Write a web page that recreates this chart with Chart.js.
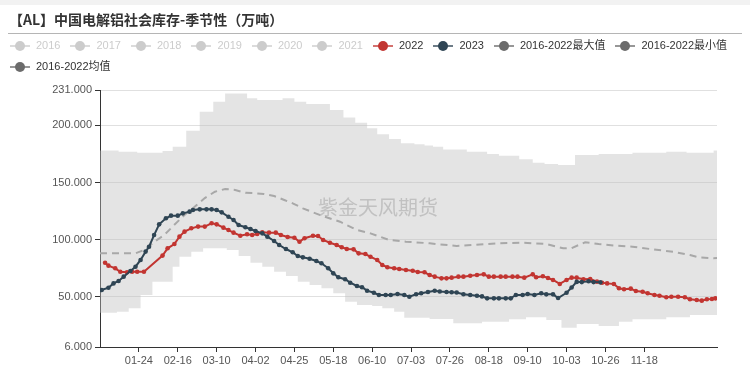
<!DOCTYPE html>
<html><head><meta charset="utf-8">
<script src="https://cdn.jsdelivr.net/npm/chart.js@4.4.0/dist/chart.umd.min.js"></script>
<style>
html,body{margin:0;padding:0;background:#fff;}
#wrap{position:relative;width:750px;height:383px;overflow:hidden;font-family:"Liberation Sans","Noto Sans CJK SC",sans-serif;}
#topbar{position:absolute;left:0;top:0;width:750px;height:5px;background:#f2f2f2;}
#title{position:absolute;left:9px;top:9px;font-size:14px;font-weight:bold;color:#333;line-height:20px;white-space:nowrap;font-family:"Noto Sans CJK SC",sans-serif;}
#sep{position:absolute;left:8px;top:33px;width:734px;height:1px;background:#b5b5b5;}
#legend{position:absolute;left:10px;top:35px;width:738px;display:flex;flex-wrap:wrap;font-size:11px;line-height:21px;}
.item{display:flex;align-items:center;margin-right:10px;height:21px;color:#333;white-space:nowrap;}
.icon{position:relative;width:20px;height:10px;margin-right:6px;}
.icon .ln{position:absolute;left:0;top:4px;width:20px;height:2px;opacity:0.7;}
.icon .dot{position:absolute;left:5px;top:0;width:10px;height:10px;border-radius:50%;}
canvas{position:absolute;left:0;top:0;}
</style></head>
<body>
<div id="wrap">
  <div id="topbar"></div>
  <canvas id="c" width="750" height="383"></canvas>
  <div id="title">【AL】中国电解铝社会库存-季节性（万吨）</div>
  <div id="sep"></div>
  <div id="legend"></div>
</div>
<script>
// ---- categories: MM-DD over a leap-year calendar ----
const monthDays = [31,29,31,30,31,30,31,31,30,31,30,31];
const categories = [];
monthDays.forEach((n, m) => { for (let d = 1; d <= n; d++) categories.push(String(m+1).padStart(2,'0') + '-' + String(d).padStart(2,'0')); });

const tickLabels = ['01-24','02-16','03-10','04-02','04-25','05-18','06-10','07-03','07-26','08-18','09-10','10-03','10-26','11-18'];
const yTicks = [6, 50, 100, 150, 200, 231];

const hiddenYears = ['2016','2017','2018','2019','2020','2021'];

const s2022 = [
 ['01-04',79.8],['01-06',77.2],['01-10',74.9],['01-13',71.9],['01-17',71.4],['01-20',71.9],['01-23',71.9],['01-27',71.9],
 ['02-07',86.0],['02-10',92.4],['02-14',96.2],['02-17',102.6],['02-20',107.0],['02-24',109.9],['02-28',111.4],
 ['03-03',111.4],['03-07',114.3],['03-10',113.4],['03-14',110.5],['03-17',108.4],['03-20',106.1],['03-24',103.4],['03-28',104.7],['03-31',104.1],
 ['04-03',105.0],['04-06',106.4],['04-10',106.1],['04-14',106.1],['04-17',104.1],['04-21',102.3],['04-25',101.7],['04-28',98.2],
 ['05-01',101.2],['05-06',103.4],['05-09',103.2],['05-12',99.7],['05-16',97.3],['05-20',95.3],['05-23',93.3],['05-26',91.8],['05-30',91.5],
 ['06-02',88.0],['06-06',87.4],['06-09',85.0],['06-13',82.2],['06-16',77.8],['06-19',75.8],['06-23',74.9],['06-26',74.3],['06-30',73.4],
 ['07-04',72.8],['07-07',71.7],['07-11',71.4],['07-14',69.0],['07-17',67.6],['07-21',66.1],['07-24',66.1],['07-27',66.7],['07-31',67.6],
 ['08-03',67.6],['08-07',68.4],['08-11',69.0],['08-15',69.6],['08-18',67.6],['08-21',67.6],['08-25',67.6],['08-28',67.6],
 ['09-01',67.6],['09-04',67.6],['09-08',66.7],['09-13',69.6],['09-15',67.0],['09-19',68.0],['09-22',66.4],['09-25',64.7],['09-29',61.2],
 ['10-03',64.7],['10-06',66.7],['10-09',66.7],['10-13',65.3],['10-17',65.5],['10-21',63.2],['10-24',62.3],['10-27',61.7],['10-31',61.2],
 ['11-03',57.4],['11-06',56.5],['11-10',57.1],['11-13',55.0],['11-17',54.4],['11-20',53.0],['11-24',51.5],['11-27',50.9],
 ['12-01',49.5],['12-04',50.0],['12-08',50.0],['12-12',49.5],['12-15',47.8],['12-19',47.1],['12-22',46.6],['12-25',47.8],['12-28',48.0],['12-30',48.6]
];

const s2023 = [
 ['01-02',55.9],['01-06',57.9],['01-09',61.7],['01-12',63.8],['01-15',67.6],['01-19',72.5],['01-22',76.3],['01-25',82.2],['01-28',89.5],['01-30',93.8],
 ['02-02',104.0],['02-05',113.4],['02-09',118.7],['02-12',121.0],['02-16',121.0],['02-19',123.0],['02-23',124.5],['02-25',126.0],['02-29',126.5],
 ['03-04',126.5],['03-07',126.5],['03-10',126.0],['03-13',123.9],['03-17',120.0],['03-20',117.2],['03-23',112.8],['03-27',110.8],['03-30',109.3],
 ['04-02',107.6],['04-06',105.5],['04-09',102.6],['04-13',98.8],['04-16',95.3],['04-20',91.8],['04-24',88.9],['04-27',85.7],['04-30',84.5],
 ['05-04',83.2],['05-08',81.3],['05-11',79.3],['05-15',74.9],['05-18',70.5],['05-21',67.0],['05-25',65.3],['05-28',62.3],
 ['06-01',59.4],['06-04',58.3],['06-07',55.3],['06-11',53.5],['06-14',51.5],['06-18',51.5],['06-21',51.5],['06-25',52.4],['06-29',51.5],
 ['07-02',50.0],['07-06',52.2],['07-09',53.0],['07-13',54.1],['07-17',55.3],['07-20',54.6],['07-24',54.1],['07-27',53.9],['07-30',53.7],
 ['08-03',52.2],['08-07',51.5],['08-11',50.9],['08-14',50.3],['08-17',48.6],['08-21',48.6],['08-24',48.6],['08-28',48.6],['08-31',48.6],
 ['09-03',51.5],['09-07',51.5],['09-10',52.4],['09-14',51.5],['09-18',53.0],['09-21',52.1],['09-25',52.1],['09-28',48.9],
 ['10-03',53.5],['10-06',58.1],['10-09',63.0],['10-12',62.8],['10-16',63.5],['10-19',62.8],['10-23',62.6]
];

// 2016-2022 max (stepped plateaus)
const sMax = [
 ['01-01',178.0],['01-12',177.0],['01-23',176.1],['02-07',177.6],['02-13',181.4],['02-21',195.4],['02-29',212.0],['03-08',220.8],['03-15',228.0],
 ['03-28',223.7],['04-03',222.2],['04-18',223.7],['04-25',220.8],['05-02',218.7],['05-16',213.5],['05-24',207.0],['05-31',202.4],['06-07',197.5],
 ['06-13',192.2],['06-20',188.0],['06-27',184.3],['07-05',183.5],['07-11',182.5],['07-16',181.4],['07-22',179.0],['08-05',177.0],['08-17',175.0],
 ['08-24',173.5],['09-05',170.3],['09-13',167.4],['09-20',166.2],['09-28',165.3],['10-08',174.0],['10-22',175.0],['11-11',176.0],['12-01',177.0],
 ['12-13',176.0],['12-29',178.0],['12-31',178.0]
];

// 2016-2022 min (stepped plateaus)
const sMin = [
 ['01-01',36.0],['01-11',36.9],['01-18',39.9],['01-25',51.5],['02-01',63.2],['02-13',76.3],['02-17',85.0],['02-24',89.4],['03-02',92.4],
 ['03-16',91.0],['03-23',85.7],['03-30',79.8],['04-06',76.3],['04-13',71.9],['04-20',68.2],['04-27',63.2],['05-04',60.3],['05-11',57.4],
 ['05-18',53.0],['05-25',45.7],['06-01',42.8],['06-10',41.9],['06-16',39.9],['06-23',36.9],['06-29',31.5],['07-14',30.5],['07-28',26.7],
 ['08-14',28.1],['08-30',30.2],['09-09',32.0],['09-21',29.6],['09-30',22.9],['10-09',26.1],['10-22',24.4],['11-03',28.1],['11-11',30.2],
 ['12-01',32.0],['12-15',34.0],['12-31',34.0]
];

// 2016-2022 mean
const sMean = [
 ['01-01',88.0],['01-22',88.0],['01-28',91.5],['02-02',98.0],['02-08',104.0],['02-14',113.0],['02-20',121.6],['02-26',128.8],
 ['03-03',136.4],['03-09',142.0],['03-15',144.3],['03-21',143.5],['03-27',141.0],['04-02',140.6],['04-07',140.0],['04-13',138.2],
 ['04-19',134.7],['04-24',131.8],['04-30',127.4],['05-11',121.0],['05-22',115.7],['06-01',108.4],['06-09',105.5],['06-20',99.7],
 ['06-30',98.2],['07-14',96.8],['07-30',94.4],['08-08',95.3],['08-23',96.8],['09-07',97.3],['09-21',96.2],['10-01',92.4],['10-06',92.6],
 ['10-14',97.7],['10-22',96.2],['11-01',94.7],['11-11',93.8],['11-23',91.5],['12-05',89.4],['12-15',86.5],['12-20',84.5],['12-29',83.7],['12-31',83.9]
];

const toXY = arr => arr.map(([d, v]) => ({x: categories.indexOf(d), y: v}));

const datasets = [];
hiddenYears.forEach(y => datasets.push({label: y, data: [], hidden: true, legendColor: '#ccc', borderColor: '#ccc'}));
datasets.push({label: '2022', data: toXY(s2022), borderColor: '#c23531', backgroundColor: '#c23531', legendColor: '#c23531',
  borderWidth: 2, pointRadius: 2.3, pointBorderWidth: 0, pointHoverRadius: 3, order: 1, fill: false, tension: 0});
datasets.push({label: '2023', data: toXY(s2023), borderColor: '#2f4554', backgroundColor: '#2f4554', legendColor: '#2f4554',
  borderWidth: 2, pointRadius: 2.3, pointBorderWidth: 0, pointHoverRadius: 3, order: 0, fill: false, tension: 0});
datasets.push({label: '2016-2022最大值', data: toXY(sMax), borderColor: 'rgba(0,0,0,0)', borderWidth: 0, pointRadius: 0,
  stepped: 'before', fill: '+1', backgroundColor: 'rgba(190,190,190,0.42)', legendColor: '#6b6b6b', order: 4});
datasets.push({label: '2016-2022最小值', data: toXY(sMin), borderColor: 'rgba(0,0,0,0)', borderWidth: 0, pointRadius: 0,
  stepped: 'before', fill: false, legendColor: '#6b6b6b', order: 5});
datasets.push({label: '2016-2022均值', data: toXY(sMean), borderColor: '#a8a8a8', borderWidth: 2, borderDash: [7, 5], pointRadius: 0,
  fill: false, legendColor: '#6b6b6b', order: 3, tension: 0});

const watermark = {
  id: 'watermark',
  afterDatasetsDraw(chart) {
    const ctx = chart.ctx;
    ctx.save();
    ctx.font = '20px "Noto Sans CJK SC", sans-serif';
    ctx.fillStyle = 'rgba(170,170,170,0.6)';
    ctx.textAlign = 'center';
    ctx.textBaseline = 'middle';
    ctx.fillText('紫金天风期货', 378, 207);
    ctx.restore();
  }
};

Chart.defaults.font.family = '"Liberation Sans", "Noto Sans CJK SC", sans-serif';
Chart.defaults.font.size = 11;
Chart.defaults.color = '#555';

const chart = new Chart(document.getElementById('c'), {
  type: 'line',
  data: {datasets},
  options: {
    responsive: false,
    animation: false,
    devicePixelRatio: 1,
    layout: {padding: {left: 0, top: 90, right: 33, bottom: 0}},
    plugins: {legend: {display: false}, tooltip: {enabled: false}, title: {display: false}},
    scales: {
      x: {
        type: 'linear', min: 0, max: categories.length - 1, bounds: 'data',
        afterBuildTicks: s => { s.ticks = tickLabels.map(l => ({value: categories.indexOf(l)})); },
        afterFit: s => { s.height = 36; },
        ticks: {autoSkip: false, maxRotation: 0, padding: 2, color: '#555', callback: v => categories[v]},
        grid: {drawOnChartArea: false, drawTicks: true, tickLength: 5, tickColor: '#333'},
        border: {display: true, color: '#333', width: 1}
      },
      y: {
        type: 'linear', min: 6, max: 231, bounds: 'data',
        afterBuildTicks: s => { s.ticks = yTicks.map(v => ({value: v})); },
        afterFit: s => { s.width = 100; },
        ticks: {padding: 3, color: '#555', callback: v => Number(v).toFixed(3)},
        grid: {color: ctx => (ctx.tick && ctx.tick.value === 6) ? 'rgba(0,0,0,0)' : '#e0e0e0', tickLength: 5, tickColor: '#333'},
        border: {display: true, color: '#333', width: 1}
      }
    }
  },
  plugins: [watermark]
});

// HTML legend built from the datasets
const legend = document.getElementById('legend');
chart.data.datasets.forEach(ds => {
  const item = document.createElement('div');
  item.className = 'item';
  const col = ds.legendColor;
  item.innerHTML = '<span class="icon"><span class="ln" style="background:' + col + '"></span><span class="dot" style="background:' + col + '"></span></span><span>' + ds.label + '</span>';
  if (ds.hidden) item.style.color = '#ccc';
  legend.appendChild(item);
});
</script>
</body></html>
